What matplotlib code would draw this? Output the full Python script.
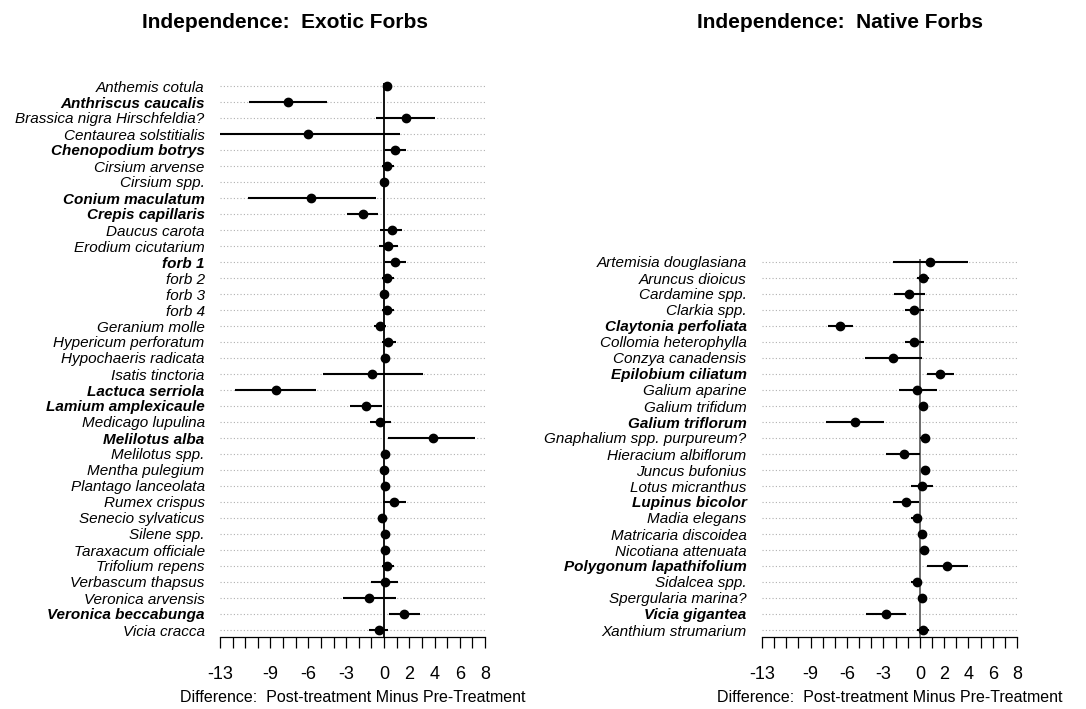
import numpy as np
import matplotlib
matplotlib.use("Agg")
import matplotlib.pyplot as plt

plt.rcParams['font.family'] = ['Liberation Sans', 'DejaVu Sans']

# ---- data : exotic forbs (top to bottom)
exotic_names = ["Anthemis cotula", "Anthriscus caucalis", "Brassica nigra Hirschfeldia?",
                "Centaurea solstitialis", "Chenopodium botrys", "Cirsium arvense", "Cirsium spp.",
                "Conium maculatum", "Crepis capillaris", "Daucus carota", "Erodium cicutarium",
                "forb 1", "forb 2", "forb 3", "forb 4", "Geranium molle", "Hypericum perforatum",
                "Hypochaeris radicata", "Isatis tinctoria", "Lactuca serriola", "Lamium amplexicaule",
                "Medicago lupulina", "Melilotus alba", "Melilotus spp.", "Mentha pulegium",
                "Plantago lanceolata", "Rumex crispus", "Senecio sylvaticus", "Silene spp.",
                "Taraxacum officiale", "Trifolium repens", "Verbascum thapsus", "Veronica arvensis",
                "Veronica beccabunga", "Vicia cracca"]
exotic_mean = [0.2, -7.6, 1.7, -6.0, 0.9, 0.25, 0.0, -5.8, -1.7, 0.6, 0.3,
               0.9, 0.25, 0.0, 0.25, -0.35, 0.35, 0.08, -0.95, -8.6, -1.45,
               -0.3, 3.85, 0.08, 0.0, 0.08, 0.8, -0.13, 0.08, 0.08, 0.25,
               0.08, -1.2, 1.6, -0.4]
exotic_lo = [0.2, -10.7, -0.6, -13.0, 0.1, -0.2, 0.0, -10.8, -2.9, -0.35, -0.4,
             0.1, -0.2, 0.0, -0.2, -0.8, -0.13, 0.08, -4.85, -11.8, -2.7,
             -1.1, 0.35, 0.08, 0.0, 0.08, -0.1, -0.13, 0.08, 0.08, -0.2,
             -1.0, -3.25, 0.4, -1.2]
exotic_hi = [0.2, -4.5, 4.0, 1.3, 1.75, 0.8, 0.0, -0.65, -0.5, 1.45, 1.1,
             1.75, 0.8, 0.0, 0.8, 0.13, 0.95, 0.08, 3.05, -5.4, -0.13,
             0.55, 7.2, 0.08, 0.0, 0.08, 1.7, -0.13, 0.08, 0.08, 0.8,
             1.1, 0.95, 2.85, 0.35]
exotic_bold = ["Anthriscus caucalis", "Chenopodium botrys", "Conium maculatum",
               "Crepis capillaris", "forb 1", "Lactuca serriola", "Lamium amplexicaule",
               "Melilotus alba", "Veronica beccabunga"]

# ---- data : native forbs (top to bottom)
native_names = ["Artemisia douglasiana", "Aruncus dioicus", "Cardamine spp.", "Clarkia spp.",
                "Claytonia perfoliata", "Collomia heterophylla", "Conzya canadensis",
                "Epilobium ciliatum", "Galium aparine", "Galium trifidum", "Galium triflorum",
                "Gnaphalium spp. purpureum?", "Hieracium albiflorum", "Juncus bufonius",
                "Lotus micranthus", "Lupinus bicolor", "Madia elegans", "Matricaria discoidea",
                "Nicotiana attenuata", "Polygonum lapathifolium", "Sidalcea spp.",
                "Spergularia marina?", "Vicia gigantea", "Xanthium strumarium"]
native_mean = [0.8, 0.27, -0.9, -0.47, -6.6, -0.47, -2.2, 1.65, -0.22, 0.22, -5.35,
               0.4, -1.3, 0.4, 0.15, -1.15, -0.27, 0.16, 0.36, 2.25, -0.27,
               0.16, -2.8, 0.22]
native_lo = [-2.25, -0.27, -2.15, -1.25, -7.55, -1.25, -4.55, 0.55, -1.7, -0.05, -7.75,
             0.05, -2.75, 0.1, -0.7, -2.2, -0.75, 0.16, 0.05, 0.55, -0.75,
             0.16, -4.45, -0.22]
native_hi = [3.95, 0.77, 0.4, 0.33, -5.5, 0.33, 0.2, 2.8, 1.45, 0.4, -2.95,
             0.82, 0.0, 0.7, 1.1, -0.05, 0.2, 0.16, 0.7, 3.95, 0.2,
             0.16, -1.15, 0.77]
native_bold = ["Claytonia perfoliata", "Epilobium ciliatum", "Galium triflorum",
               "Lupinus bicolor", "Polygonum lapathifolium", "Vicia gigantea"]

tick_pos = list(range(-13, 9))
tick_lab = ["-13", "-9", "-6", "-3", "0", "2", "4", "6", "8"]
title_left = "Independence:  Exotic Forbs"
title_right = "Independence:  Native Forbs"
xlab = "Difference:  Post-treatment Minus Pre-Treatment"


def forest(ax, names, mean, lo, hi, bold, zcol):
    n = len(names)
    y = np.arange(n, 0, -1)
    for yy in y:
        ax.plot([-13, 8], [yy, yy], ls=(0, (1, 2)), color='#b0b0b0', lw=0.8, zorder=1)
    ax.vlines(0, 0.5625, n + 0.2, color=zcol, lw=1.3, zorder=2)
    ax.hlines(y, lo, hi, color='black', lw=1.5, zorder=3)
    ax.plot(mean, y, 'o', color='black', ms=6, zorder=4)
    ax.set_xlim(-13, 8)
    ax.set_ylim(0.5625, 36.0)
    ax.set_yticks(y)
    ax.set_yticklabels(names, fontsize=11, style='italic')
    for t, nm in zip(ax.get_yticklabels(), names):
        if nm in bold:
            t.set_fontweight('bold')
    ax.tick_params(axis='y', length=0, pad=11)
    ax.set_xticks(tick_pos)
    ax.set_xticklabels([str(v) if str(v) in tick_lab else "" for v in tick_pos], fontsize=13)
    ax.tick_params(axis='x', direction='out', length=8, width=0.9, pad=13)
    for s in ['top', 'left', 'right']:
        ax.spines[s].set_visible(False)
    ax.spines['bottom'].set_linewidth(0.9)
    ax.set_xlabel(xlab, fontsize=11.5, labelpad=5)


fig = plt.figure(figsize=(10.86, 7.09), dpi=100)
ax1 = fig.add_axes([220 / 1086, 72 / 709, 265 / 1086, 567 / 709])
ax2 = fig.add_axes([762 / 1086, 72 / 709, 255 / 1086, 567 / 709])

forest(ax1, exotic_names, exotic_mean, exotic_lo, exotic_hi, exotic_bold, 'black')
forest(ax2, native_names, native_mean, native_lo, native_hi, native_bold, '#606060')

fig.text(285 / 1086, 1 - 23 / 709, title_left, fontsize=15, fontweight='bold',
         ha='center', va='center')
fig.text(840 / 1086, 1 - 23 / 709, title_right, fontsize=15, fontweight='bold',
         ha='center', va='center')

fig.savefig("out.png", dpi=100)
